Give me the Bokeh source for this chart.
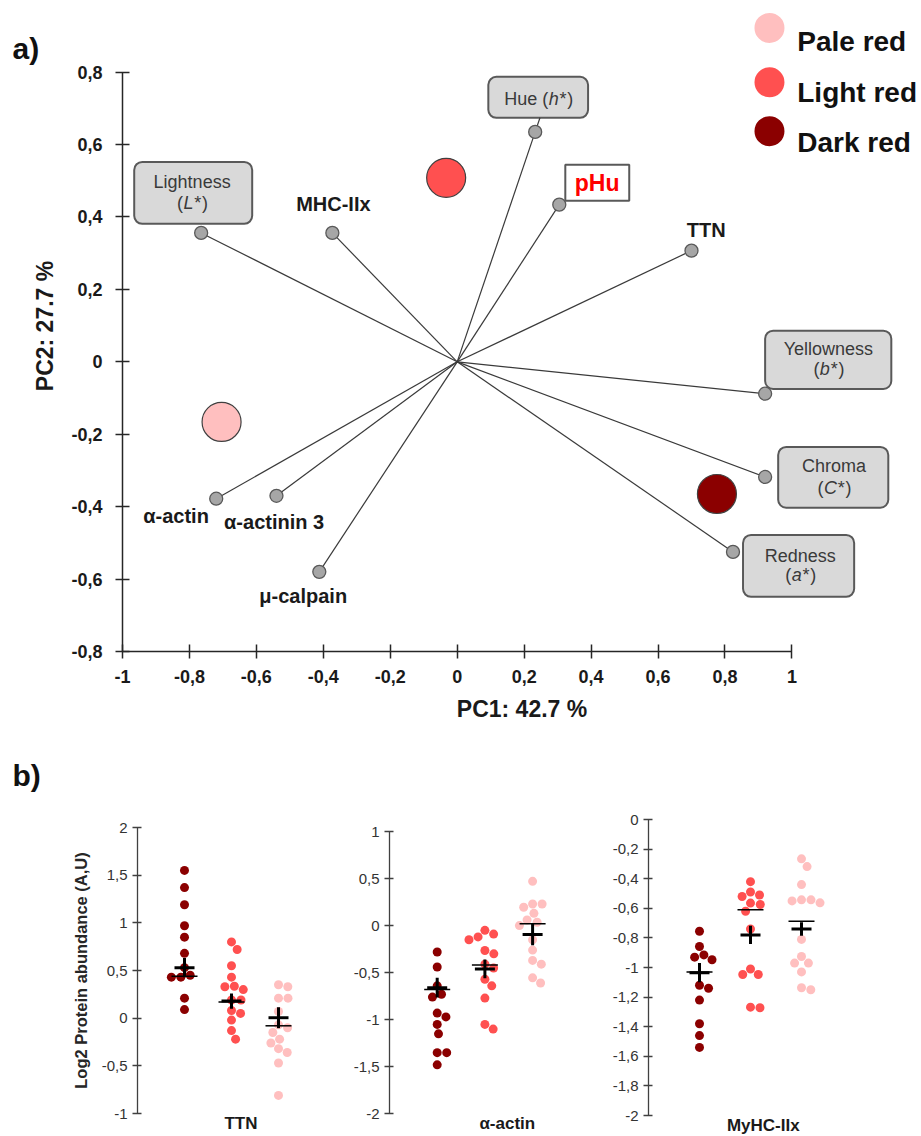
from bokeh.plotting import figure
from bokeh.models import FixedTicker, BoxAnnotation, Range1d, CustomJSTickFormatter
from bokeh.layouts import column, row
from bokeh.embed import file_html
from bokeh.resources import INLINE
from bokeh.core.properties import value

FONT = "Liberation Sans"

# ---------------- data: panel a (PCA loadings and group scores) ----------------
VAR_NAMES = ["Lightness", "MHC-IIx", "Hue", "pHu", "TTN", "Yellowness",
             "Chroma", "Redness", "α-actin", "α-actinin 3", "μ-calpain"]
VAR_PC1 = [-0.765, -0.373, 0.233, 0.305, 0.700, 0.920, 0.920, 0.824, -0.720, -0.540, -0.412]
VAR_PC2 = [0.356, 0.356, 0.635, 0.434, 0.307, -0.088, -0.318, -0.525, -0.378, -0.370, -0.580]
GROUP_NAMES = ["Pale red", "Light red", "Dark red"]
GROUP_PC1 = [-0.704, -0.033, 0.776]
GROUP_PC2 = [-0.166, 0.508, -0.365]
PC1_LABEL = "PC1: 42.7 %"
PC2_LABEL = "PC2: 27.7 %"
PCA_X_TICKS = [-1, -0.8, -0.6, -0.4, -0.2, 0, 0.2, 0.4, 0.6, 0.8, 1]
PCA_Y_TICKS = [-0.8, -0.6, -0.4, -0.2, 0, 0.2, 0.4, 0.6, 0.8]

# ---------------- data: panel b (log2 protein abundance) ----------------
PROTEINS = ["TTN", "α-actin", "MyHC-IIx"]
Y_LABEL_B = "Log2 Protein abundance (A,U)"
TTN_DARK = [1.55, 1.37, 1.19, 0.97, 0.85, 0.68, 0.53, 0.45, 0.43, 0.43, 0.21, 0.09]
TTN_LIGHT = [0.80, 0.72, 0.55, 0.43, 0.335, 0.33, 0.30, 0.19, 0.19, 0.08, 0.05, -0.02, -0.13, -0.22]
TTN_PALE = [0.35, 0.33, 0.21, 0.21, 0.07, -0.07, -0.10, -0.15, -0.22, -0.26, -0.32, -0.36, -0.47, -0.81]
ACT_DARK = [-0.28, -0.44, -0.64, -0.73, -0.76, -0.93, -0.97, -1.05, -1.15, -1.35, -1.35, -1.48]
ACT_LIGHT = [-0.05, -0.09, -0.12, -0.15, -0.265, -0.30, -0.41, -0.45, -0.57, -0.64, -0.77, -1.05, -1.10]
ACT_PALE = [0.47, 0.23, 0.23, 0.195, 0.13, 0.06, 0.035, 0.0, -0.15, -0.26, -0.37, -0.41, -0.555, -0.61]
MYH_DARK = [-0.755, -0.858, -0.915, -0.93, -0.948, -1.12, -1.14, -1.22, -1.38, -1.46, -1.54]
MYH_LIGHT = [-0.42, -0.49, -0.51, -0.52, -0.565, -0.574, -0.62, -0.74, -1.01, -1.047, -1.047, -1.268, -1.272]
MYH_PALE = [-0.266, -0.318, -0.44, -0.543, -0.543, -0.55, -0.563, -0.81, -0.926, -0.97, -0.97, -1.03, -1.137, -1.15]
# group order in panel b: dark, light, pale
MEANS = [[0.53, 0.18, 0.005], [-0.66, -0.46, -0.095], [-1.035, -0.78, -0.74]]
SEMS = [[0.10, 0.08, 0.11], [0.105, 0.10, 0.115], [0.065, 0.062, 0.045]]
MEDIANS = [[0.44, 0.17, -0.08], [-0.68, -0.42, 0.02], [-1.03, -0.61, -0.687]]
B_Y_TICKS = [
    [-1, -0.5, 0, 0.5, 1, 1.5, 2],
    [-2, -1.5, -1, -0.5, 0, 0.5, 1],
    [-2, -1.8, -1.6, -1.4, -1.2, -1, -0.8, -0.6, -0.4, -0.2, 0],
]
B_SERIES = [[TTN_DARK, TTN_LIGHT, TTN_PALE],
            [ACT_DARK, ACT_LIGHT, ACT_PALE],
            [MYH_DARK, MYH_LIGHT, MYH_PALE]]

# ---------------- styles ----------------
C_PALE, C_LIGHT, C_DARK = "#FFBFBF", "#FF5050", "#8B0000"
GROUP_COLORS = [C_PALE, C_LIGHT, C_DARK]
B_COLORS = [C_DARK, C_LIGHT, C_PALE]
AXC = "#262626"


def comma_formatter():
    return CustomJSTickFormatter(code="""
        var r = Math.round(tick);
        var s;
        if (Math.abs(tick - r) < 1e-9) { s = String(r); }
        else { s = tick.toFixed(1); }
        return s.replace('.', ',');
    """)


AW = {'H': .722, 'u': .556, 'e': .556, ' ': .278, '(': .333, ')': .333,
      'h': .556, '*': .389, 'L': .556, 'b': .556, 'C': .722, 'a': .556}


def tw(s, px):
    return sum(AW.get(c, .556) for c in s) * px


# ================= panel a =================
XPX, YPX = 334.7, 362.1
PA_W, PA_H = 921, 752
PA_LEFT, PA_FRAME_BOTTOM = 122, 651
pa = figure(width=PA_W, height=PA_H,
            x_range=Range1d(-1, -1 + (PA_W - PA_LEFT) / XPX),
            y_range=Range1d(-0.8, -0.8 + PA_FRAME_BOTTOM / YPX),
            output_backend="svg", toolbar_location=None,
            min_border_left=PA_LEFT, min_border_right=0, min_border_top=0,
            min_border_bottom=PA_H - PA_FRAME_BOTTOM)
pa.grid.visible = False
pa.outline_line_color = None
pa.background_fill_color = "white"
pa.xaxis.ticker = FixedTicker(ticks=PCA_X_TICKS)
pa.yaxis.ticker = FixedTicker(ticks=PCA_Y_TICKS)
pa.xaxis.bounds = (min(PCA_X_TICKS), max(PCA_X_TICKS))
pa.yaxis.bounds = (min(PCA_Y_TICKS), max(PCA_Y_TICKS))
pa.xaxis.axis_label = PC1_LABEL
pa.yaxis.axis_label = PC2_LABEL
for ax in (pa.xaxis[0], pa.yaxis[0]):
    ax.formatter = comma_formatter()
    ax.axis_line_color = AXC
    ax.axis_line_width = 1.5
    ax.major_tick_line_color = AXC
    ax.major_tick_line_width = 1.5
    ax.major_tick_in = 7
    ax.major_tick_out = 7
    ax.minor_tick_line_color = None
    ax.major_label_text_font = FONT
    ax.major_label_text_font_size = "18px"
    ax.major_label_text_font_style = "bold"
    ax.major_label_text_color = "#1a1a1a"
    ax.axis_label_text_font = FONT
    ax.axis_label_text_font_size = "23px"
    ax.axis_label_text_font_style = "bold"
    ax.axis_label_text_color = "#1a1a1a"
pa.xaxis.major_label_standoff = 11
pa.yaxis.major_label_standoff = 13
pa.xaxis.axis_label_standoff = 10
pa.yaxis.axis_label_standoff = 10

# label boxes (underlay so the texts are drawn over them)
BOXES = {
    "Lightness": (-0.965, -0.6125, 0.552, 0.381),
    "Hue": (0.093, 0.391, 0.787, 0.674),
    "Yellowness": (0.920, 1.297, 0.086, -0.075),
    "Chroma": (0.959, 1.288, -0.235, -0.403),
    "Redness": (0.854, 1.186, -0.478, -0.649),
}
for name, (l, r, t, b) in BOXES.items():
    pa.add_layout(BoxAnnotation(left=l, right=r, top=t, bottom=b, fill_color="#D9D9D9",
                                fill_alpha=1, line_color="#595959", line_alpha=1,
                                line_width=2, border_radius=8, level="underlay"))
pa.add_layout(BoxAnnotation(left=0.323, right=0.514, top=0.544, bottom=0.445,
                            fill_color="white", fill_alpha=1, line_color="#595959",
                            line_alpha=1, line_width=2, level="underlay"))

# loading vectors
pa.segment(x0=[0] * len(VAR_PC1), y0=[0] * len(VAR_PC2), x1=VAR_PC1, y1=VAR_PC2,
           line_color="#3a3a3a", line_width=1.2)
ih = VAR_NAMES.index("Hue")
hue_top = BOXES["Hue"][3]
pa.segment(x0=[VAR_PC1[ih]], y0=[VAR_PC2[ih]],
           x1=[VAR_PC1[ih] * hue_top / VAR_PC2[ih]], y1=[hue_top],
           line_color="#3a3a3a", line_width=1.2)

# group scores
pa.scatter(GROUP_PC1, GROUP_PC2, size=39, fill_color=GROUP_COLORS,
           line_color="#404040", line_width=1.2)
# variable points
pa.scatter(VAR_PC1, VAR_PC2, size=13, fill_color="#A6A6A6", line_color="#595959",
           line_width=1.3)

# bold labels for protein variables
BOLD_POS = {"MHC-IIx": (-0.370, 0.437), "TTN": (0.744, 0.365), "α-actin": (-0.840, -0.427),
            "α-actinin 3": (-0.547, -0.443), "μ-calpain": (-0.460, -0.648)}
names = list(BOLD_POS.keys())
pa.text(x=[BOLD_POS[n][0] for n in names], y=[BOLD_POS[n][1] for n in names], text=names,
        text_font=value(FONT), text_font_size="20px", text_font_style="bold",
        text_color="#1a1a1a", text_align="center", text_baseline="middle")
pa.text(x=[0.418], y=[0.495], text=["pHu"], text_font=value(FONT), text_font_size="23px",
        text_font_style="bold", text_color="#FF0000", text_align="center",
        text_baseline="middle")

BOX_FS = 18
BOX_TXT = "#3a3a3a"
FIRST = {"Lightness": (-0.792, 0.496), "Yellowness": (1.109, 0.036),
         "Chroma": (1.126, -0.289), "Redness": (1.025, -0.535)}
fn = list(FIRST.keys())
pa.text(x=[FIRST[n][0] for n in fn], y=[FIRST[n][1] for n in fn], text=fn,
        text_font=value(FONT), text_font_size=f"{BOX_FS}px", text_color=BOX_TXT,
        text_align="center", text_baseline="middle")


def mixed(cx, cy, pre, ital, post, center_all=False):
    wp, wi, wq = tw(pre, BOX_FS), tw(ital, BOX_FS), tw(post, BOX_FS)
    off = (-(wp + wi + wq) / 2 + wp + wi / 2) if center_all else 0.0
    common = dict(text_font=value(FONT), text_font_size=f"{BOX_FS}px",
                  text_color=BOX_TXT, text_baseline="middle")
    pa.text(x=[cx], y=[cy], text=[pre], x_offset=off - wi / 2 - 0.5, text_align="right", **common)
    pa.text(x=[cx], y=[cy], text=[ital], x_offset=off, text_align="center",
            text_font_style="italic", **common)
    pa.text(x=[cx], y=[cy], text=[post], x_offset=off + wi / 2 + 1.5, text_align="left", **common)


mixed(-0.792, 0.439, "(", "L*", ")")
mixed(1.109, -0.021, "(", "b*", ")")
mixed(1.126, -0.348, "(", "C*", ")")
mixed(1.025, -0.590, "(", "a*", ")")
mixed(0.242, 0.726, "Hue (", "h*", ")", center_all=True)

# legend
LEG_X, LEG_TX = 0.933, 1.016
LEG_Y = [0.922, 0.772, 0.637]
LEG_BASE = [0.8846, 0.7445, 0.6065]
pa.scatter([LEG_X] * 3, LEG_Y, size=30, fill_color=GROUP_COLORS, line_color=None)
pa.text(x=[LEG_TX] * 3, y=LEG_BASE, text=GROUP_NAMES, text_font=value(FONT),
        text_font_size="28px", text_font_style="bold", text_color="#111111",
        text_align="left", text_baseline="alphabetic", level="overlay")

# panel tag, drawn at overlay level so it is not clipped to the frame
pa.text(x=[-1 - (122 - 12) / XPX], y=[0.8 + (72 - 48) / YPX], text=["a)"],
        text_font=value(FONT), text_font_size="30px", text_font_style="bold",
        text_color="#111111", text_baseline="middle", text_align="left", level="overlay")

# ================= panel b =================
ROW_TOP = PA_H
FIG_B_H = 1136 - ROW_TOP
FRAME_TOP = 804          # page y of the frame top, so the y label centres on the axis
B_LAYOUT = [
    dict(width=345, left=137, ax_top=827, ax_bot=1113, xpx=47.0, label_x=2.2),
    dict(width=255, left=44, ax_top=831, ax_bot=1113.3, xpx=47.7, label_x=2.47),
    dict(width=321, left=48, ax_top=819, ax_bot=1115, xpx=51.0, label_x=2.25),
]
DOT_D = 9.5


def swarm(vals, ypx, d):
    placed, out = [], []
    for v in vals:
        y = v * ypx
        cands = [0.0]
        for xj, yj in placed:
            dy = abs(y - yj)
            if dy < d:
                dx = (d * d - dy * dy) ** 0.5
                cands += [xj + dx, xj - dx]
        cands.sort(key=lambda c: (abs(c), -c))
        best = 0.0
        for c in cands:
            if all((c - xj) ** 2 + (y - yj) ** 2 >= d * d - 1e-6 for xj, yj in placed):
                best = c
                break
        placed.append((best, y))
        out.append(best)
    return out


figs_b = []
for k, prot in enumerate(PROTEINS):
    L = B_LAYOUT[k]
    ticks = B_Y_TICKS[k]
    ylo, yhi = min(ticks), max(ticks)
    ypx = (L["ax_bot"] - L["ax_top"]) / (yhi - ylo)
    y0 = ylo - (ROW_TOP + FIG_B_H - L["ax_bot"]) / ypx
    y1 = yhi + (L["ax_top"] - FRAME_TOP) / ypx
    xw = (L["width"] - L["left"]) / L["xpx"]
    p = figure(width=L["width"], height=FIG_B_H, x_range=Range1d(0, xw),
               y_range=Range1d(y0, y1), output_backend="svg", toolbar_location=None,
               x_axis_location=None, min_border_left=L["left"], min_border_right=0,
               min_border_top=FRAME_TOP - ROW_TOP, min_border_bottom=0)
    p.grid.visible = False
    p.outline_line_color = None
    ax = p.yaxis[0]
    ax.ticker = FixedTicker(ticks=ticks)
    ax.bounds = (ylo, yhi)
    ax.formatter = comma_formatter()
    ax.axis_line_color = "#404040"
    ax.axis_line_width = 1.3
    ax.major_tick_line_color = "#404040"
    ax.major_tick_line_width = 1.3
    ax.major_tick_in = 4
    ax.major_tick_out = 5
    ax.minor_tick_line_color = None
    ax.major_label_text_font = FONT
    ax.major_label_text_font_size = "15px"
    ax.major_label_text_color = "#333333"
    ax.major_label_standoff = 5
    if k == 0:
        ax.axis_label = Y_LABEL_B
        ax.axis_label_text_font = FONT
        ax.axis_label_text_font_size = "16.5px"
        ax.axis_label_text_font_style = "bold"
        ax.axis_label_text_color = "#262626"
        ax.axis_label_standoff = 9

    xpx = L["xpx"]
    for g, vals in enumerate(B_SERIES[k]):
        offs = swarm(vals, ypx, DOT_D)
        xs = [g + 1 + o / xpx for o in offs]
        p.scatter(xs, vals, size=9, fill_color=B_COLORS[g], line_color=None)
    gx = [1, 2, 3]
    means, sems, meds = MEANS[k], SEMS[k], MEDIANS[k]
    hw, mw = 10 / xpx, 13 / xpx
    p.segment(x0=[x - mw for x in gx], x1=[x + mw for x in gx], y0=meds, y1=meds,
              line_color="black", line_width=1.5)
    p.segment(x0=[x - hw for x in gx], x1=[x + hw for x in gx], y0=means, y1=means,
              line_color="black", line_width=3)
    p.segment(x0=gx, x1=gx, y0=[m - s for m, s in zip(means, sems)],
              y1=[m + s for m, s in zip(means, sems)], line_color="black", line_width=3)
    p.text(x=[L["label_x"]], y=[ylo - 10 / ypx], text=[prot], text_font=value(FONT),
           text_font_size="17px", text_font_style="bold", text_color="#1a1a1a",
           text_align="center", text_baseline="middle")
    if k == 0:
        p.text(x=[-(L["left"] - 12) / xpx], y=[yhi + (L["ax_top"] - 775) / ypx], text=["b)"],
               text_font=value(FONT), text_font_size="30px", text_font_style="bold",
               text_color="#111111", text_baseline="middle", text_align="left",
               level="overlay")
    figs_b.append(p)

layout = column(pa, row(*figs_b))
open("out.html", "w").write(file_html(layout, INLINE))
